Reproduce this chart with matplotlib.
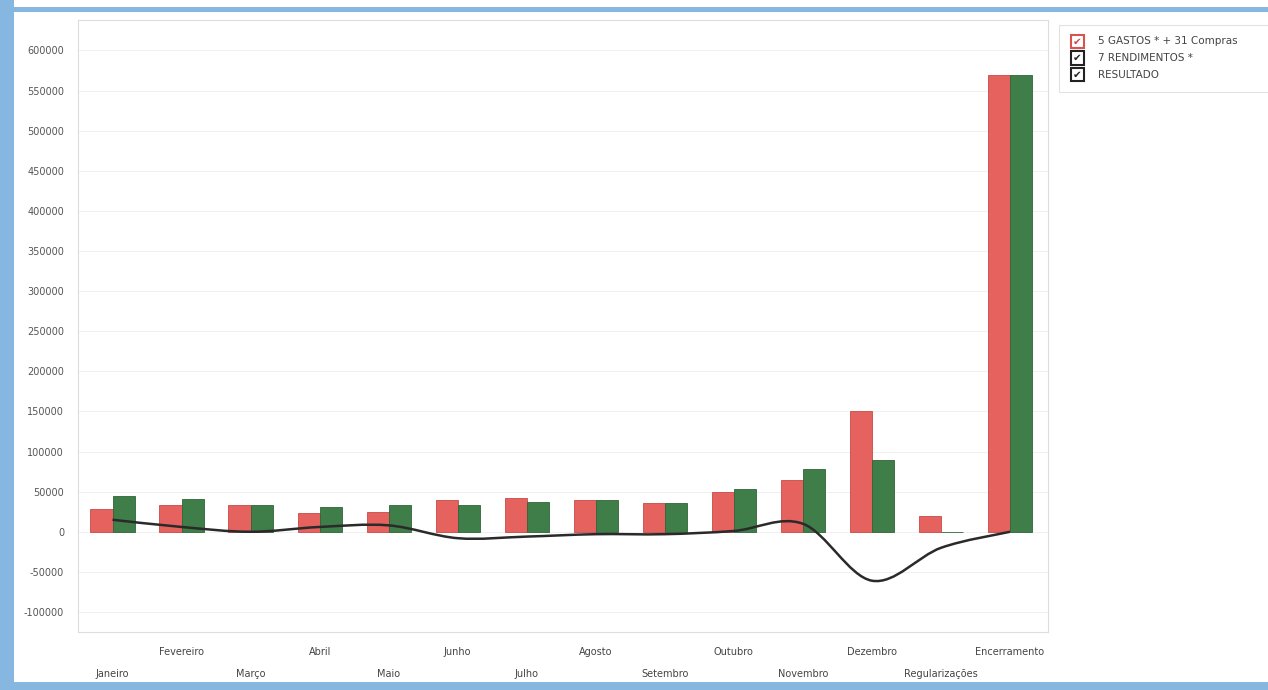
"""
Gastos vs rendimentos por mês, com linha de resultado (recriação do gráfico digitalizado).
"""

import numpy as np
import matplotlib.pyplot as plt
from matplotlib.path import Path
from matplotlib.patches import PathPatch, Rectangle

# Dados
meses = [
    "Janeiro", "Fevereiro", "Março", "Abril", "Maio", "Junho", "Julho",
    "Agosto", "Setembro", "Outubro", "Novembro", "Dezembro",
    "Regularizações", "Encerramento",
]
gastos = [29000, 34000, 33000, 24000, 25000, 40000, 42000,
          39000, 36000, 50000, 65000, 150000, 20000, 570000]
rendimentos = [45000, 41000, 33000, 31000, 34000, 33000, 37000,
               39000, 36000, 53000, 78000, 90000, 0, 570000]
resultado = [15000, 6000, 0, 6000, 8000, -8000, -6000,
             -3000, -3000, 1000, 10000, -61000, -20000, 0]

y_ticks = list(range(-100000, 600001, 50000))

VERMELHO = "#E5625F"
VERDE = "#3F7D49"
AZUL_BORDA = "#86B7E0"


def curva_suave(ax, xs, ys, **kw):
    """Linha suave (Catmull-Rom -> Bezier cúbica) em coordenadas de dados."""
    xs = np.asarray(xs, float)
    ys = np.asarray(ys, float)
    pts = np.column_stack([xs, ys])
    verts = [pts[0]]
    codes = [Path.MOVETO]
    n = len(pts)
    for i in range(n - 1):
        p0 = pts[i - 1] if i > 0 else pts[i]
        p1 = pts[i]
        p2 = pts[i + 1]
        p3 = pts[i + 2] if i + 2 < n else pts[i + 1]
        c1 = p1 + (p2 - p0) / 6.0
        c2 = p2 - (p3 - p1) / 6.0
        verts += [c1, c2, p2]
        codes += [Path.CURVE4] * 3
    patch = PathPatch(Path(verts, codes), facecolor="none", **kw)
    ax.add_patch(patch)


fig = plt.figure(figsize=(12.68, 6.90), dpi=100)
ax = fig.add_axes([0.0615, 0.084, 0.765, 0.887])

x = np.arange(len(meses))
w = 0.32
ax.bar(x - w / 2, gastos, w, color=VERMELHO, edgecolor="#C84A48",
       linewidth=0.6, zorder=2)
ax.bar(x + w / 2, rendimentos, w, color=VERDE, edgecolor="#2F6438",
       linewidth=0.6, zorder=2)
curva_suave(ax, x, resultado, edgecolor="#2A2A2A", linewidth=1.8, zorder=3)

ax.set_xlim(-0.5, 13.55)
ax.set_ylim(-125000, 638000)
ax.set_yticks(y_ticks)
ax.set_yticklabels([str(v) for v in y_ticks], fontsize=7, color="#555555")
ax.tick_params(axis="y", length=0, pad=10)
ax.set_xticks([])
ax.grid(True, axis="y", color="#F0F0F0", linewidth=0.7, zorder=0)
for s in ax.spines.values():
    s.set_color("#DDDDDD")
    s.set_linewidth(0.8)

# Rótulos do eixo x em duas filas alternadas
for i, nome in enumerate(meses):
    y_lab = -0.033 if i % 2 else -0.068
    ax.text(i, y_lab, nome, transform=ax.get_xaxis_transform(),
            ha="center", va="center", fontsize=7, color="#444444")

# Legenda desenhada à mão (caixas de verificação)
fig.add_artist(Rectangle((0.835, 0.866), 0.17, 0.098,
                         transform=fig.transFigure, facecolor="white",
                         edgecolor="#E2E2E2", linewidth=0.8))
itens = [("5 GASTOS * + 31 Compras", "#D9534F"),
         ("7 RENDIMENTOS *", "#222222"),
         ("RESULTADO", "#222222")]
for k, (txt, cor) in enumerate(itens):
    yy = 0.94 - k * 0.024
    fig.add_artist(Rectangle((0.8445, yy - 0.0095), 0.0105, 0.019,
                             transform=fig.transFigure, facecolor="white",
                             edgecolor=cor, linewidth=1.5))
    fig.text(0.8497, yy, "✔", ha="center", va="center", fontsize=7.5,
             color="#222222" if k else "#C84A48")
    fig.text(0.866, yy, txt, ha="left", va="center", fontsize=7.5,
             color="#444444")

# Moldura azul da digitalização
fig.add_artist(Rectangle((0, 0), 0.011, 1, transform=fig.transFigure,
                         facecolor=AZUL_BORDA, edgecolor="none"))
fig.add_artist(Rectangle((0, 0.982), 1, 0.008, transform=fig.transFigure,
                         facecolor=AZUL_BORDA, edgecolor="none"))
fig.add_artist(Rectangle((0, 0), 1, 0.012, transform=fig.transFigure,
                         facecolor=AZUL_BORDA, edgecolor="none"))

fig.savefig("out.png", dpi=100, facecolor="white")
